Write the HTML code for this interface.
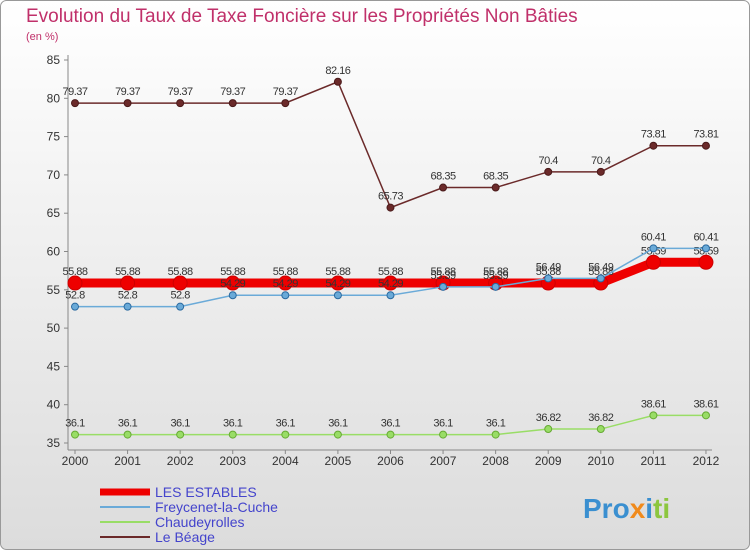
<!DOCTYPE html>
<html><head><meta charset="utf-8"><style>
body{margin:0;}
#c{width:750px;height:550px;position:relative;font-family:"Liberation Sans",sans-serif;}
</style></head><body>
<div id="c">
<svg id="s" width="750" height="550" xmlns="http://www.w3.org/2000/svg">
<defs><linearGradient id="bg" x1="0" y1="0" x2="0" y2="1"><stop offset="0" stop-color="#ffffff"/><stop offset="1" stop-color="#dcdcdc"/></linearGradient></defs>
<rect x="0.5" y="0.5" width="749" height="549" rx="6" fill="url(#bg)" stroke="#999"/>
<text x="26" y="22" font-size="19" fill="#c0306a">Evolution du Taux de Taxe Foncière sur les Propriétés Non Bâties</text>
<text x="26" y="40" font-size="11" fill="#c0306a">(en %)</text>
<g id="axes"></g><g id="series"></g>
<g id="legend"></g>
<text x="583" y="518" font-size="28" font-weight="bold"><tspan fill="#3a8fd0">Pro</tspan><tspan fill="#f08a1c">x</tspan><tspan fill="#3a8fd0">i</tspan><tspan fill="#8cc63f">ti</tspan></text>
</svg></div>
<script>
const years=["2000","2001","2002","2003","2004","2005","2006","2007","2008","2009","2010","2011","2012"];
const yTicks=[35,40,45,50,55,60,65,70,75,80,85];
const beage=[79.37,79.37,79.37,79.37,79.37,82.16,65.73,68.35,68.35,70.4,70.4,73.81,73.81];
const estables=[55.88,55.88,55.88,55.88,55.88,55.88,55.88,55.88,55.88,55.88,55.88,58.59,58.59];
const freycenet=[52.8,52.8,52.8,54.29,54.29,54.29,54.29,55.39,55.39,56.49,56.49,60.41,60.41];
const chaud=[36.1,36.1,36.1,36.1,36.1,36.1,36.1,36.1,36.1,36.82,36.82,38.61,38.61];
const NS="http://www.w3.org/2000/svg";
const xs=i=>75+i*52.58;
const ys=v=>60+(85-v)*7.66;
function mk(t,a,p){const e=document.createElementNS(NS,t);for(const k in a)e.setAttribute(k,a[k]);p.appendChild(e);return e;}
const ax=document.getElementById('axes');
let l=mk('line',{x1:68,y1:55,x2:68,y2:450,stroke:'#888'},ax);


l=mk('line',{x1:68,y1:450,x2:712,y2:450,stroke:'#888'},ax);


yTicks.forEach(v=>{const t=mk('text',{x:60,y:ys(v)+4,'font-size':12,'text-anchor':'end',fill:'#333'},ax);t.textContent=v;


mk('line',{x1:64,y1:ys(v),x2:68,y2:ys(v),stroke:'#888'},ax);});
years.forEach((y,i)=>{const t=mk('text',{x:xs(i),y:465,'font-size':12,'text-anchor':'middle',fill:'#333'},ax);t.textContent=y;


mk('line',{x1:xs(i),y1:450,x2:xs(i),y2:454,stroke:'#888'},ax);});
const sg=document.getElementById('series');
function series(d,col,w,r,name,dark){const g=mk('g',{},sg);


mk('polyline',{points:d.map((v,i)=>xs(i)+','+ys(v)).join(' '),fill:'none',stroke:col,'stroke-width':w},g);
d.forEach((v,i)=>{const c=mk('circle',{cx:xs(i),cy:ys(v),r:r,fill:col,stroke:dark,'stroke-width':1},g);


const t=mk('text',{x:xs(i),y:ys(v)-8,'font-size':11,'text-anchor':'middle',fill:'#333','letter-spacing':'-0.5'},g);t.textContent=v;

});}
series(beage,'#6b2a2a',1.5,3.5,'series-le-beage','#4a1a1a');
series(chaud,'#99dd66',1.5,3.5,'series-chaudeyrolles','#66aa33');
series(estables,'#ee0000',9,7,'series-les-estables','#cc0000');
series(freycenet,'#6aaad8',1.5,3.5,'series-freycenet','#2a6aa0');
const lg=document.getElementById('legend');
const leg=[["LES ESTABLES","#ee0000",7],["Freycenet-la-Cuche","#6aaad8",2],["Chaudeyrolles","#99dd66",2],["Le Béage","#6b2a2a",2]];
leg.forEach((e,i)=>{const y=492+i*15;const g=mk('g',{},lg);


mk('line',{x1:100,y1:y,x2:150,y2:y,stroke:e[1],'stroke-width':e[2]},g);
const t=mk('text',{x:155,y:y+5,'font-size':14,fill:'#4444cc'},g);t.textContent=e[0];});
</script>
</body></html>
